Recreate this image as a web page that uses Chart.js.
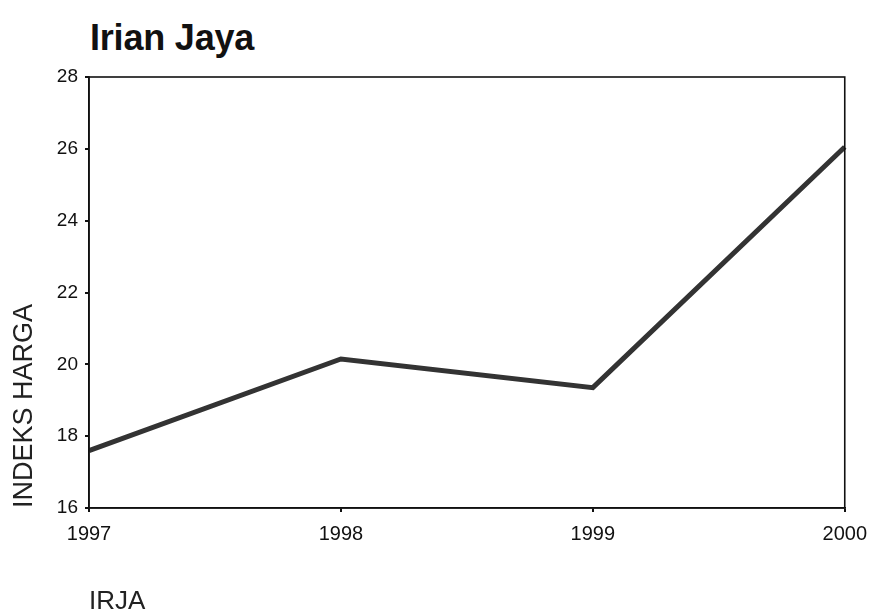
<!DOCTYPE html>
<html lang="id">
<head>
    <meta charset="UTF-8">
    <title>Irian Jaya</title>
    <script src="https://cdn.jsdelivr.net/npm/chart.js"></script>
    <style>
        html, body { margin: 0; padding: 0; background: #fff; }
        .wrap { position: relative; width: 877px; height: 615px; }
        .judul {
            position: absolute; left: 90px; top: 17px;
            font-family: "Liberation Sans", Arial, sans-serif;
            font-size: 36px; font-weight: bold; color: #111;
            letter-spacing: -0.2px;
        }
        canvas { position: absolute; left: 0; top: 0; }
    </style>
</head>
<body>
<div class="wrap">
    <div class="judul">Irian Jaya</div>
    <canvas id="grafik" width="877" height="615"></canvas>
</div>
<script>
    var tahun = ['1997', '1998', '1999', '2000'];
    var indeksHarga = [17.6, 20.15, 19.35, 26.05];
    var tickY = [16, 18, 20, 22, 24, 26, 28];

    // bingkai kotak di sekitar area plot
    var bingkai = {
        id: 'bingkai',
        afterDraw: function(chart) {
            var a = chart.chartArea, ctx = chart.ctx;
            ctx.save();
            ctx.strokeStyle = '#111';
            ctx.lineWidth = 1.6;
            ctx.strokeRect(a.left, a.top, a.right - a.left, a.bottom - a.top);
            ctx.restore();
        }
    };

    var fam = '"Liberation Sans", Arial, sans-serif';

    new Chart(document.getElementById('grafik'), {
        type: 'line',
        data: {
            labels: tahun,
            datasets: [{
                data: indeksHarga,
                borderColor: '#333',
                borderWidth: 5,
                pointRadius: 0,
                tension: 0
            }]
        },
        options: {
            responsive: false,
            animation: false,
            layout: { padding: { top: 77, right: 31, left: 0, bottom: 0 } },
            plugins: { legend: { display: false }, tooltip: { enabled: false } },
            scales: {
                x: {
                    offset: false,
                    grid: { drawOnChartArea: false, tickLength: 4, color: '#111', lineWidth: 2 },
                    border: { color: '#111', width: 1.6 },
                    ticks: { color: '#111', font: { family: fam, size: 20 }, padding: 10, maxRotation: 0 },
                    title: {
                        display: true, text: 'IRJA', align: 'start',
                        color: '#222', font: { family: fam, size: 26 },
                        padding: { top: 0, bottom: -2 }
                    },
                    afterFit: function(s) { s.height = 107; }
                },
                y: {
                    min: 16, max: 28,
                    afterBuildTicks: function(s) { s.ticks = tickY.map(function(v) { return { value: v }; }); },
                    grid: { drawOnChartArea: false, tickLength: 4, color: '#111', lineWidth: 2 },
                    border: { color: '#111', width: 1.6 },
                    ticks: { color: '#111', font: { family: fam, size: 19 }, padding: 7 },
                    title: {
                        display: true, text: 'INDEKS HARGA', align: 'start',
                        color: '#222', font: { family: fam, size: 27 },
                        padding: { top: 8, bottom: 0 }
                    },
                    afterFit: function(s) { s.width = 89; }
                }
            }
        },
        plugins: [bingkai]
    });
</script>
</body>
</html>
